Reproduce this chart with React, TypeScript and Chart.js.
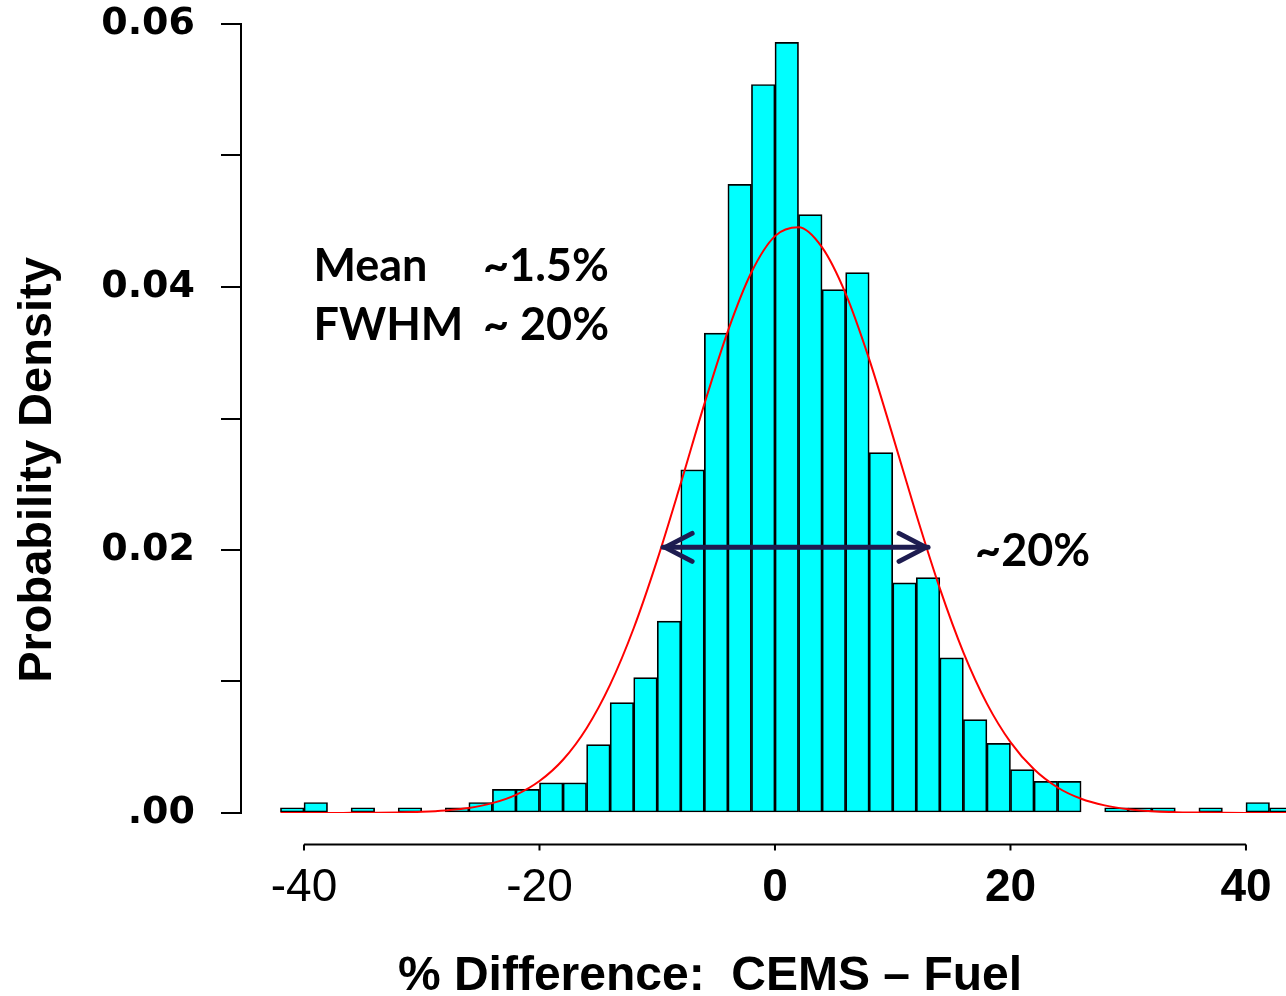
import { useEffect, useRef } from 'react';
import { Chart, registerables } from 'chart.js';

Chart.register(...registerables);

// Histogram bins (width 2, centers) and density values
const binCenters = [
  -41, -39, -37, -35, -33, -31, -29, -27, -25, -23, -21, -19, -17, -15, -13, -11, -9, -7, -5, -3, -1,
  1, 3, 5, 7, 9, 11, 13, 15, 17, 19, 21, 23, 25, 27, 29, 31, 33, 35, 37, 39, 41, 43,
];
const binDensity = [
  0.0004, 0.0008, 0, 0.0004, 0, 0.0004, 0, 0.0004, 0.0008, 0.0018, 0.0018, 0.0023, 0.0023, 0.0052,
  0.0084, 0.0103, 0.0146, 0.0261, 0.0365, 0.0478, 0.0554, 0.0586, 0.0455, 0.0398, 0.0411, 0.0274,
  0.0175, 0.0179, 0.0118, 0.0071, 0.0053, 0.0033, 0.0024, 0.0024, 0, 0.0004, 0.0004, 0.0004, 0,
  0.0004, 0, 0.0008, 0.0004,
];

// Fitted normal curve
const curveX = [
  -42, -40, -38, -36, -34, -32, -30, -28, -26, -24, -22, -20, -18, -16, -14, -12, -10, -8, -6, -4, -2,
  0, 2, 4, 6, 8, 10, 12, 14, 16, 18, 20, 22, 24, 26, 28, 30, 32, 34, 36, 38, 40, 42, 44,
];
const curveY = [
  0, 0, 0, 0.00001, 0.00002, 0.00004, 0.00009, 0.00019, 0.00038, 0.00075, 0.00138, 0.00243, 0.00405,
  0.00645, 0.00976, 0.01405, 0.01925, 0.02507, 0.03109, 0.03665, 0.04112, 0.04387, 0.04454, 0.04301,
  0.0395, 0.03452, 0.0287, 0.0227, 0.01708, 0.01222, 0.00832, 0.00539, 0.00332, 0.00194, 0.00108,
  0.00058, 0.00029, 0.00014, 0.00006, 0.00003, 0.00001, 0, 0, 0,
];

const xTicks = [-40, -20, 0, 20, 40];
const xTickLabels = ['-40', '-20', '0', '20', '40'];
const yTicks = [0, 0.01, 0.02, 0.03, 0.04, 0.05, 0.06];
const yTickLabels = ['.00', '', '0.02', '', '0.04', '', '0.06'];

const xTitle = '% Difference:  CEMS \u2013 Fuel';
const yTitle = 'Probability Density';

const statLabels = ['Mean', 'FWHM'];
const statValues = ['~1.5%', '~ 20%'];
const widthLabel = '~20%';

// FWHM arrow, in data units
const arrowFrom = -9.5;
const arrowTo = 13.0;
const arrowLevel = 0.0202;

const X_MIN = -45.35;
const X_MAX = 43.4;
const X_AXIS_AT = -0.0024;

const overlay = {
  id: 'overlay',
  afterDatasetsDraw(chart: any) {
    const { ctx } = chart;
    const x = chart.scales.x;
    const y = chart.scales.y;
    const x1 = x.getPixelForValue(arrowFrom);
    const x2 = x.getPixelForValue(arrowTo);
    const yy = y.getPixelForValue(arrowLevel);
    ctx.save();
    ctx.strokeStyle = '#1e1c50';
    ctx.lineWidth = 5;
    ctx.lineCap = 'round';
    ctx.lineJoin = 'round';
    ctx.beginPath();
    ctx.moveTo(x1, yy);
    ctx.lineTo(x2, yy);
    ctx.stroke();
    ctx.beginPath();
    ctx.moveTo(x1 + 29, yy - 14);
    ctx.lineTo(x1 + 2, yy);
    ctx.lineTo(x1 + 29, yy + 14);
    ctx.moveTo(x2 - 29, yy - 14);
    ctx.lineTo(x2 - 2, yy);
    ctx.lineTo(x2 - 29, yy + 14);
    ctx.stroke();
    ctx.restore();
  },
  afterDraw(chart: any) {
    const { ctx } = chart;
    const x = chart.scales.x;
    const y = chart.scales.y;
    ctx.save();
    // detached x axis
    const ay = y.getPixelForValue(X_AXIS_AT);
    ctx.strokeStyle = '#000';
    ctx.lineWidth = 2;
    ctx.beginPath();
    ctx.moveTo(x.getPixelForValue(xTicks[0]), ay);
    ctx.lineTo(x.getPixelForValue(xTicks[xTicks.length - 1]), ay);
    for (const t of xTicks) {
      const px = x.getPixelForValue(t);
      ctx.moveTo(px, ay);
      ctx.lineTo(px, ay + 6);
    }
    ctx.stroke();

    // axis titles
    ctx.fillStyle = '#000';
    ctx.textAlign = 'center';
    ctx.textBaseline = 'alphabetic';
    ctx.font = 'bold 48px "Liberation Sans", Arial, sans-serif';
    ctx.fillText(xTitle, 710, 990);
    ctx.save();
    ctx.translate(51, 470);
    ctx.rotate(-Math.PI / 2);
    ctx.font = 'bold 47px "Liberation Sans", Arial, sans-serif';
    ctx.fillText(yTitle, 0, 0);
    ctx.restore();

    // annotations
    ctx.textAlign = 'left';
    ctx.font = 'bold 45px Lato, "Open Sans", sans-serif';
    const rowY = [0.04046, 0.03597];
    statLabels.forEach((s, i) => {
      ctx.fillText(s, x.getPixelForValue(-39.2), y.getPixelForValue(rowY[i]));
      ctx.fillText(statValues[i], x.getPixelForValue(-24.8), y.getPixelForValue(rowY[i]));
    });
    ctx.fillText(widthLabel, x.getPixelForValue(16.99), y.getPixelForValue(0.01878));
    ctx.restore();
  },
};

export default function App() {
  const ref = useRef<HTMLCanvasElement>(null);
  useEffect(() => {
    if (!ref.current) return;
    const chart = new Chart(ref.current, {
      type: 'bar',
      data: {
        datasets: [
          {
            type: 'line',
            data: curveX.map((v, i) => ({ x: v, y: curveY[i] })),
            borderColor: '#ff0000',
            borderWidth: 2,
            pointRadius: 0,
            fill: false,
            cubicInterpolationMode: 'monotone',
            order: 0,
          } as any,
          {
            type: 'bar',
            data: binCenters.map((v, i) => ({ x: v, y: binDensity[i] })),
            backgroundColor: '#00ffff',
            borderColor: '#000000',
            borderWidth: 1.7,
            borderSkipped: false,
            barPercentage: 1,
            categoryPercentage: 1,
            order: 1,
          } as any,
        ],
      },
      options: {
        responsive: false,
        animation: false,
        layout: { padding: { top: 24, right: 0, left: 0, bottom: 0 } },
        plugins: {
          legend: { display: false },
          tooltip: { enabled: false },
          title: { display: false },
        },
        scales: {
          x: {
            type: 'linear',
            min: X_MIN,
            max: X_MAX,
            offset: false,
            grid: { display: false, drawTicks: false },
            border: { display: false },
            afterBuildTicks: (s: any) => {
              s.ticks = xTicks.map((v) => ({ value: v }));
            },
            afterFit: (s: any) => {
              s.height = 183;
              s.paddingLeft = 0;
              s.paddingRight = 0;
            },
            ticks: {
              padding: 48,
              color: '#000',
              maxRotation: 0,
              autoSkip: false,
              font: (c: any) => ({
                family: '"Liberation Sans", Arial, sans-serif',
                size: 46,
                weight: c.tick && c.tick.value < 0 ? 'normal' : 'bold',
              }),
              callback: (_v: any, i: number) => xTickLabels[i],
            },
          },
          y: {
            type: 'linear',
            min: 0,
            max: 0.06,
            afterBuildTicks: (s: any) => {
              s.ticks = yTicks.map((v) => ({ value: v }));
            },
            afterFit: (s: any) => {
              s.width = 241;
              s.paddingTop = 0;
              s.paddingBottom = 0;
            },
            grid: { drawOnChartArea: false, tickLength: 20, color: '#000', lineWidth: 2 },
            border: { display: true, color: '#000', width: 2 },
            ticks: {
              padding: 26,
              color: '#000',
              autoSkip: false,
              font: { family: '"DejaVu Sans", sans-serif', size: 38, weight: 'bold' },
              callback: (_v: any, i: number) => yTickLabels[i],
            },
          },
        },
      } as any,
      plugins: [overlay],
    });
    return () => chart.destroy();
  }, []);
  return (
    <div style={{ position: 'fixed', left: 0, top: 0, width: 1286, height: 996, background: '#fff' }}>
      <canvas ref={ref} width={1286} height={996} style={{ display: 'block' }} />
    </div>
  );
}
